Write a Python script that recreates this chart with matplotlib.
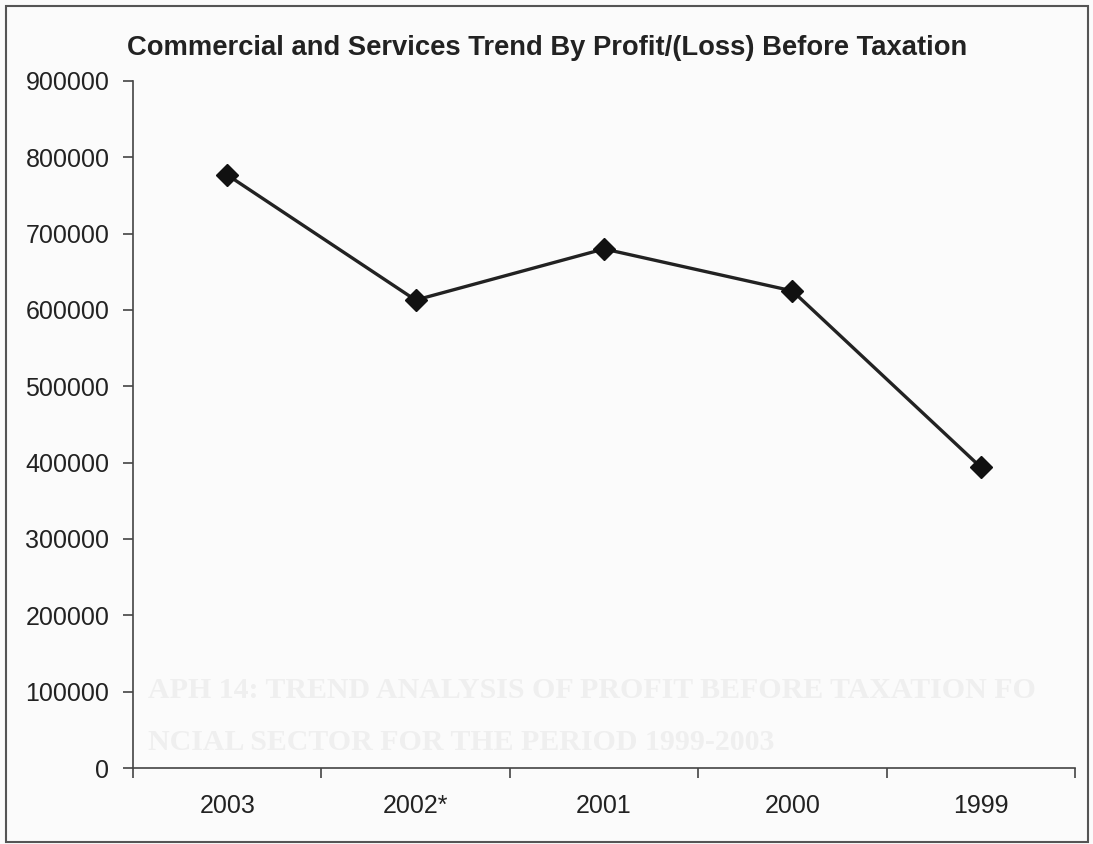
import matplotlib.pyplot as plt
from matplotlib.patches import Rectangle

plt.rcParams['font.family'] = ['Liberation Sans', 'DejaVu Sans']

# profit/(loss) before taxation, commercial and services sector
years = ['2003', '2002*', '2001', '2000', '1999']
profit = [777000, 613000, 680000, 625000, 394000]
y_ticks = [0, 100000, 200000, 300000, 400000, 500000, 600000, 700000, 800000, 900000]

fig = plt.figure(figsize=(10.93, 8.44), dpi=100)
fig.patch.set_facecolor('#fbfbfb')
ax = fig.add_axes([133 / 1093, 1 - 768 / 844, (1075 - 133) / 1093, (768 - 81) / 844])
ax.set_facecolor('none')

# faint show-through from the reverse of the scanned page
fig.text(148 / 1093, 1 - 690 / 844, 'APH 14: TREND ANALYSIS OF PROFIT BEFORE TAXATION FO',
         family='Liberation Serif', fontweight='bold', fontsize=21.5, color='#efefef', va='center')
fig.text(148 / 1093, 1 - 742 / 844, 'NCIAL SECTOR FOR THE PERIOD 1999-2003',
         family='Liberation Serif', fontweight='bold', fontsize=21.5, color='#efefef', va='center')

x = list(range(len(years)))
ax.plot(x, profit, color='#222222', linewidth=2.4, marker='D', markersize=11,
        markerfacecolor='#111111', markeredgecolor='#111111', zorder=3)

ax.set_xlim(-0.5, len(years) - 0.5)
ax.set_ylim(0, 900000)
ax.set_yticks(y_ticks)
ax.set_yticklabels([str(v) for v in y_ticks])
ax.set_xticks([i - 0.5 for i in range(len(years) + 1)])
ax.set_xticklabels([])
ax.set_xticks(x, minor=True)
ax.set_xticklabels(years, minor=True)

for side in ['top', 'right']:
    ax.spines[side].set_visible(False)
for side in ['left', 'bottom']:
    ax.spines[side].set_color('#444444')
    ax.spines[side].set_linewidth(1.2)

ax.tick_params(axis='y', direction='out', length=7, width=1.2, color='#444444',
               labelsize=18, labelcolor='#222222', pad=10)
ax.tick_params(axis='x', which='major', direction='out', length=7, width=1.2, color='#444444')
ax.tick_params(axis='x', which='minor', length=0, labelsize=18, labelcolor='#222222', pad=19)

fig.text(127 / 1093, 1 - 48 / 844, 'Commercial and Services Trend By Profit/(Loss) Before Taxation',
         fontsize=19.7, fontweight='bold', color='#222222', va='center', ha='left')

# outer frame
fig.patches.append(Rectangle((6 / 1093, 2 / 844), (1088 - 6) / 1093, (838 - 2) / 844,
                             transform=fig.transFigure, fill=False,
                             edgecolor='#555555', linewidth=1.5))

fig.savefig('out.png', dpi=100, facecolor=fig.get_facecolor())
